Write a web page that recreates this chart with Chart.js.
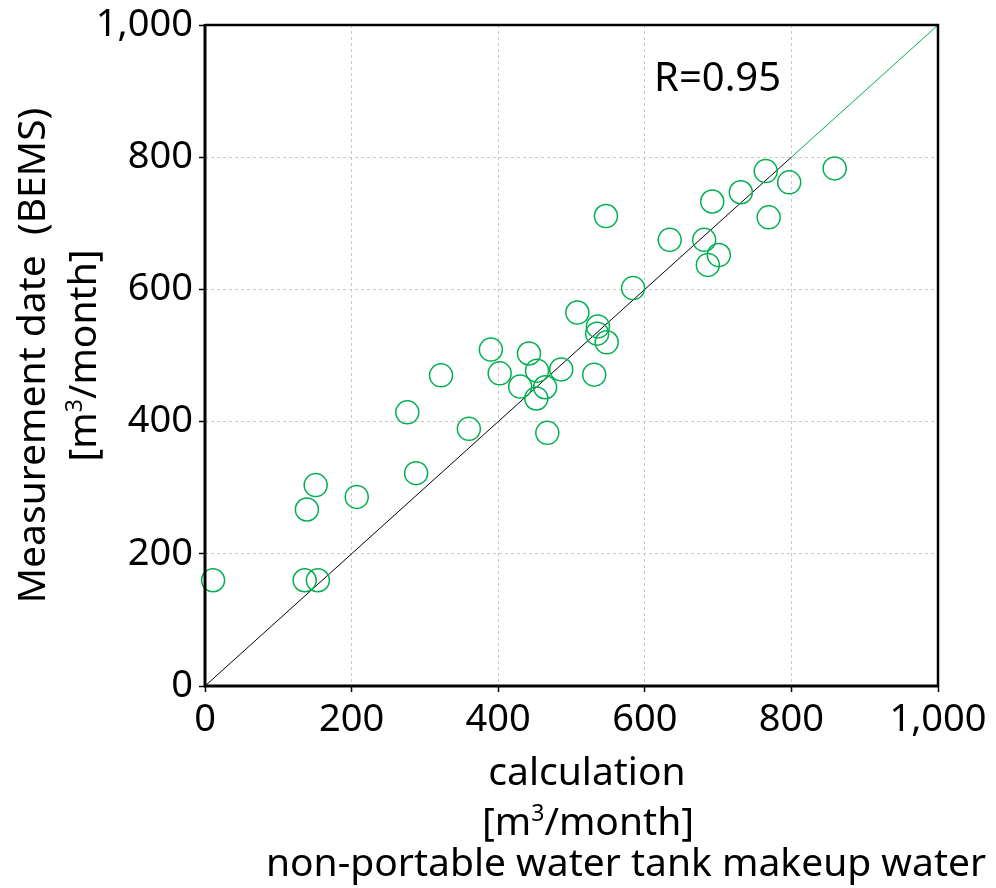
<!DOCTYPE html>
<html>
<head>
<meta charset="utf-8">
<script src="https://cdn.jsdelivr.net/npm/chart.js@4.4.0/dist/chart.umd.min.js"></script>
<style>
  html, body { margin: 0; padding: 0; background: #ffffff; }
  #wrap { width: 996px; height: 888px; }
</style>
</head>
<body>
<div id="wrap"><canvas id="grafico" width="996" height="888"></canvas></div>
<script>
// calculation [m3/month]
const calcX = [11, 136, 154, 139, 151, 207, 276, 288, 322, 360, 390, 402, 430, 442, 453, 452, 464, 467,
  486, 508, 531, 536, 535, 548, 547, 584, 634, 681, 686, 701, 692, 731, 765, 769, 797, 859];
// measurement (BEMS) [m3/month]
const bemsY = [160, 160, 160, 267, 304, 286, 414, 322, 470, 389, 509, 473, 453, 503, 477, 435, 452, 383,
  479, 565, 471, 544, 533, 520, 711, 602, 675, 675, 637, 652, 733, 747, 779, 709, 762, 783];
// y = x reference line, black up to 800, green after
const refBlack = [0, 800];
const refGreen = [800, 1000];
const tickValues = [0, 200, 400, 600, 800, 1000];
const rLabel = 'R=0.95';

const verde = '#00b050';
const fonte = '"Noto Sans", "DejaVu Sans", sans-serif';

const pontos = calcX.map((x, i) => ({ x: x, y: bemsY[i] }));

// "[m3/month]" with a small raised 3, centred on cx
function unidade(ctx, cx, y, size) {
  const normal = size + 'px ' + fonte;
  const peq = Math.round(size * 0.58) + 'px ' + fonte;
  const partes = [['[m', normal, 0], ['3', peq, -size * 0.36], ['/month]', normal, 0]];
  let total = 0;
  partes.forEach(p => { ctx.font = p[1]; total += ctx.measureText(p[0]).width; });
  let x = cx - total / 2;
  ctx.textAlign = 'left';
  partes.forEach(p => {
    ctx.font = p[1];
    ctx.fillText(p[0], x, y + p[2]);
    x += ctx.measureText(p[0]).width;
  });
  ctx.textAlign = 'center';
}

const moldura = {
  id: 'moldura',
  afterDatasetsDraw(chart) {
    const { ctx, chartArea: a } = chart;
    ctx.save();
    ctx.strokeStyle = '#000000';
    ctx.lineWidth = 2.5;
    ctx.beginPath();
    ctx.moveTo(a.left, a.top);
    ctx.lineTo(a.right, a.top);
    ctx.lineTo(a.right, a.bottom);
    ctx.stroke();
    ctx.lineWidth = 3;
    ctx.beginPath();
    ctx.moveTo(a.left, a.top - 1);
    ctx.lineTo(a.left, a.bottom);
    ctx.lineTo(a.right + 1, a.bottom);
    ctx.stroke();
    ctx.restore();
  },
  afterDraw(chart) {
    const { ctx, chartArea: a } = chart;
    const meioY = (a.top + a.bottom) / 2;
    ctx.save();
    ctx.fillStyle = '#000000';
    ctx.textAlign = 'center';
    ctx.textBaseline = 'alphabetic';
    ctx.font = '39px ' + fonte;
    ctx.fillText('calculation', 587, 785);
    unidade(ctx, 588, 835, 39);
    ctx.font = '39px ' + fonte;
    ctx.fillText('non-portable water tank makeup water', 626, 876);

    ctx.save();
    ctx.translate(45, meioY);
    ctx.rotate(-Math.PI / 2);
    ctx.fillText('Measurement date  (BEMS)', 0, 0);
    ctx.restore();
    ctx.save();
    ctx.translate(96, meioY);
    ctx.rotate(-Math.PI / 2);
    unidade(ctx, 0, 0, 39);
    ctx.restore();

    ctx.textAlign = 'left';
    ctx.font = '40px ' + fonte;
    ctx.fillText(rLabel, 654, 91);
    ctx.restore();
  }
};

const eixo = () => ({
  type: 'linear',
  min: 0,
  max: 1000,
  afterBuildTicks: (s) => { s.ticks = tickValues.map(v => ({ value: v })); },
  grid: {
    color: '#c8c8c8',
    lineWidth: 1,
    tickColor: '#000000',
    tickLength: 6,
    tickWidth: 1.5
  },
  border: { display: false, dash: [3, 3] },
  ticks: {
    color: '#000000',
    font: { family: fonte, size: 38, lineHeight: 1 },
    padding: 6,
    maxRotation: 0
  }
});

const escalaX = eixo();
escalaX.position = 'bottom';
escalaX.afterFit = (s) => { s.height = 202; };
escalaX.ticks.padding = 9;

const escalaY = eixo();
escalaY.position = 'left';
escalaY.afterFit = (s) => { s.width = 205; };

new Chart(document.getElementById('grafico').getContext('2d'), {
  type: 'scatter',
  data: {
    datasets: [
      {
        label: 'medido',
        data: pontos,
        pointStyle: 'circle',
        pointRadius: 11.5,
        pointHoverRadius: 11.5,
        pointBorderWidth: 1.5,
        borderColor: verde,
        backgroundColor: 'rgba(0,0,0,0)',
        clip: false,
        order: 0
      },
      {
        type: 'line',
        label: 'y=x',
        data: refBlack.map(v => ({ x: v, y: v })),
        borderColor: '#000000',
        borderWidth: 1,
        pointRadius: 0,
        fill: false,
        order: 1
      },
      {
        type: 'line',
        label: 'y=x (2)',
        data: refGreen.map(v => ({ x: v, y: v })),
        borderColor: verde,
        borderWidth: 1,
        pointRadius: 0,
        fill: false,
        order: 1
      }
    ]
  },
  options: {
    responsive: false,
    animation: false,
    locale: 'en-US',
    layout: { padding: { left: 0, top: 22, right: 58, bottom: 0 } },
    scales: { x: escalaX, y: escalaY },
    plugins: {
      legend: { display: false },
      tooltip: { enabled: false }
    }
  },
  plugins: [moldura]
});
</script>
</body>
</html>
